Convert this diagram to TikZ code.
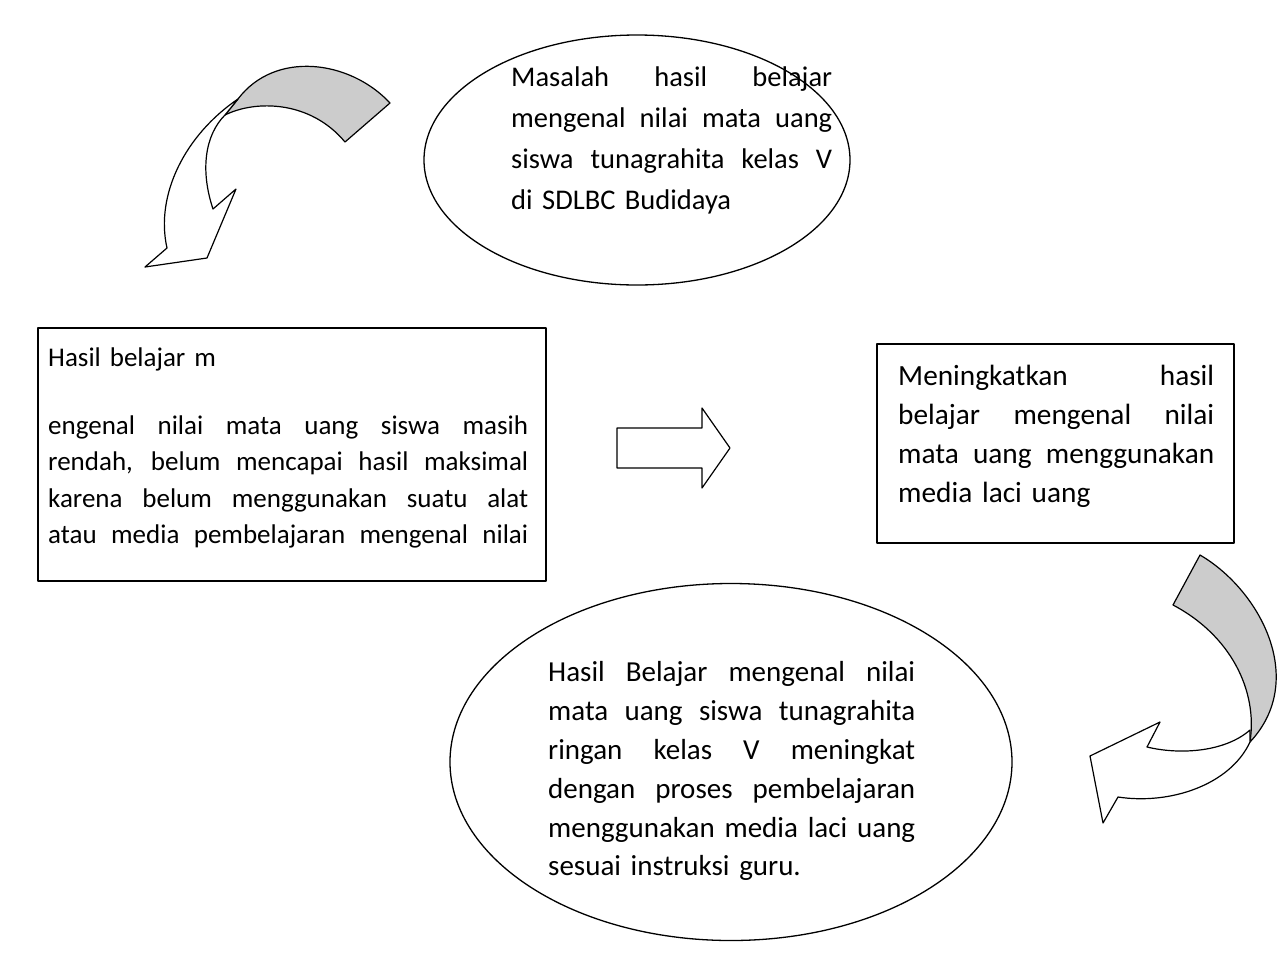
\documentclass[tikz,border=0pt]{standalone}
\usepackage{fontspec}
\setmainfont{Carlito}
\usetikzlibrary{shapes.geometric}
\definecolor{pita}{RGB}{204,204,204}
\newlength{\lebar}
\newcommand{\rata}[1]{\leavevmode\hbox to\lebar{\spaceskip=\fontdimen2\font plus 1fil\relax #1}}

\begin{document}
\begin{tikzpicture}[x=1pt,y=-1pt,line join=round,
  oval/.style={ellipse,draw,line width=1.3pt,inner sep=0pt},
  kotak/.style={rectangle,draw,line width=1.3pt,inner sep=0pt},
  isi/.style={anchor=north west,inner sep=0pt,align=left,text width=#1,
    execute at begin node={\setlength{\lebar}{#1}}},
  abu/.style={draw,line width=1.2pt,fill=pita},
  putih/.style={draw,line width=1.2pt,fill=white}]
\useasboundingbox (0,0) rectangle (1288,954);

\node[oval, minimum width=426pt, minimum height=250pt] (masalah) at (637,160) {};
\node[oval, minimum width=562pt, minimum height=357pt] (hasil)   at (731,762) {};
\node[kotak, minimum width=508pt, minimum height=253pt] (kondisi) at (292,454.5) {};
\node[kotak, minimum width=357pt, minimum height=199pt] (tindakan) at (1055.5,443.5) {};

\node[isi=321pt, font=\fontsize{28.5}{41}\selectfont] (masalah-isi) at (511,67)
  {\rata{Masalah hasil belajar}\\ \rata{mengenal nilai mata uang}\\
   \rata{siswa tunagrahita kelas V}\\ di SDLBC Budidaya};
\node[isi=480pt, font=\fontsize{27}{36.6}\selectfont] (kondisi-isi) at (48,348)
  {Hasil belajar m\\[30.5pt] \rata{engenal nilai mata uang siswa masih}\\
   \rata{rendah, belum mencapai hasil maksimal}\\ \rata{karena belum menggunakan suatu alat}\\
   \rata{atau media pembelajaran mengenal nilai}};
\node[isi=316pt, font=\fontsize{29.3}{39}\selectfont] (tindakan-isi) at (898,365)
  {\rata{Meningkatkan hasil}\\ \rata{belajar mengenal nilai}\\
   \rata{mata uang menggunakan}\\ media laci uang};
\node[isi=367pt, font=\fontsize{29}{38.8}\selectfont] (hasil-isi) at (548,661.5)
  {\rata{Hasil Belajar mengenal nilai}\\ \rata{mata uang siswa tunagrahita}\\
   \rata{ringan kelas V meningkat}\\ \rata{dengan proses pembelajaran}\\
   \rata{menggunakan media laci uang}\\ sesuai instruksi guru.};

% panah lurus
\draw[line width=1.2pt] (617,428) -- (702,428) -- (702,408) -- (730,448)
  -- (702,488) -- (702,468) -- (617,468) -- cycle;

% panah lengkung kiri atas
\path[abu] (390,103) .. controls (350,60) and (275,50) .. (238,99) -- (225,115)
  .. controls (255,100) and (310,100) .. (345,142) -- cycle;
\path[putih] (238,99) .. controls (185,135) and (155,195) .. (167,248) -- (145,267)
  -- (207,258) -- (236,189) -- (213,209) .. controls (200,170) and (205,135) .. (225,115) -- cycle;

% panah lengkung kanan bawah
\path[abu] (1200,555) .. controls (1260,590) and (1308,680) .. (1250,742)
  .. controls (1258,690) and (1230,635) .. (1173,605) -- cycle;
\path[putih] (1250,730) .. controls (1225,752) and (1180,755) .. (1147,747) -- (1160,722)
  -- (1090,756) -- (1103,823) -- (1118,797) .. controls (1170,805) and (1230,785) .. (1250,742) -- cycle;

\end{tikzpicture}
\end{document}
